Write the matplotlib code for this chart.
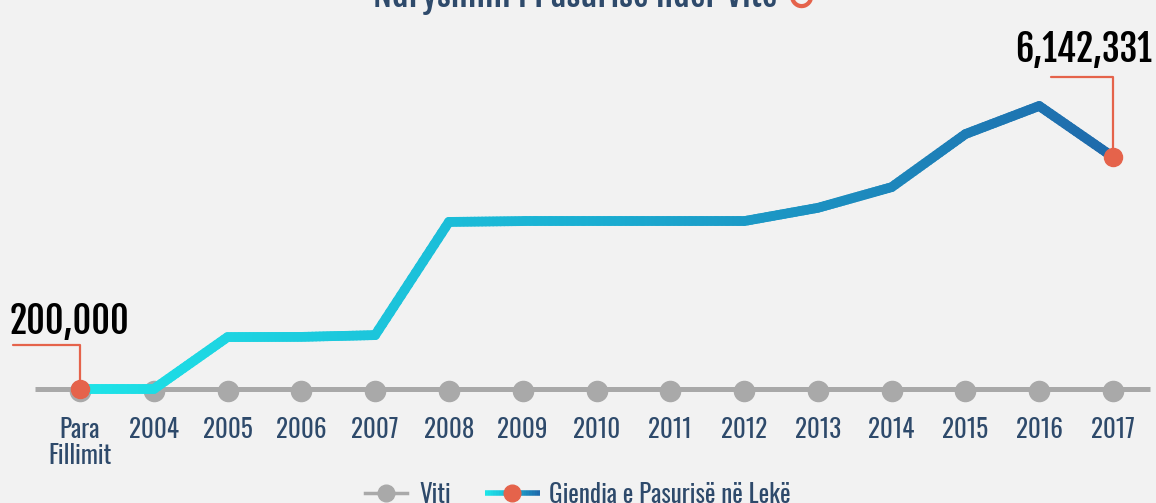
import numpy as np
import matplotlib.pyplot as plt
from matplotlib.collections import LineCollection
from matplotlib.colors import LinearSegmentedColormap
import matplotlib.transforms as mtransforms

# data
years = ['Para\nFillimit', '2004', '2005', '2006', '2007', '2008', '2009', '2010',
         '2011', '2012', '2013', '2014', '2015', '2016', '2017']
wealth = [200000, 200000, 1530000, 1535000, 1580000, 4480000, 4500000, 4500000,
          4500000, 4500000, 4840000, 5370000, 6730000, 7450000, 6142331]
viti_level = [200000] * len(years)
title = 'Ndryshimi i Pasurisë ndër Vite'
legend_labels = ['Viti', 'Gjendja e Pasurisë në Lekë']

BG = '#f2f2f2'
NAVY = '#2e4a6b'
RED = '#e5634b'
GRAY = '#a9a9a9'
FONT = ['Oswald', 'DejaVu Sans']
BOLD = ['Fjalla One', 'Oswald', 'DejaVu Sans']
grad = LinearSegmentedColormap.from_list('g', ['#1ee4e8', '#1aaed2', '#1f6aab'])

W, H = 1156, 503
fig = plt.figure(figsize=(W / 100, H / 100), dpi=100, facecolor=BG)
ax = fig.add_axes([0, 0, 1, 1])
ax.set_facecolor(BG)
ax.axis('off')

x = np.arange(len(years))
# pixel layout of the original: first category at 80px, last at 1113px
step = (1113 - 80) / (len(years) - 1)
ax.set_xlim(-80 / step, len(years) - 1 + (W - 1113) / step)
vscale = (wealth[-1] - wealth[0]) / (389 - 157)
ax.set_ylim(wealth[0] - (H - 389) * vscale, wealth[0] + 389 * vscale)

# grey "Viti" baseline
ax.axhline(viti_level[0], xmin=35 / W, xmax=1150 / W, color=GRAY, lw=3.6,
           solid_capstyle='butt', zorder=1)
ax.plot(x, np.array(viti_level) - 2 * vscale, 'o', color=GRAY, ms=14.5, zorder=2)

# gradient wealth line (each straight segment split for the colour ramp)
segs, cols = [], []
n_sub = 20
for i in range(len(x) - 1):
    t = np.linspace(0, 1, n_sub + 1)
    xs = x[i] + (x[i + 1] - x[i]) * t
    ys = wealth[i] + (wealth[i + 1] - wealth[i]) * t
    for j in range(n_sub):
        segs.append([(xs[j], ys[j]), (xs[j + 1], ys[j + 1])])
        cols.append(grad((xs[j] + xs[j + 1]) / 2 / x[-1]))
lc = LineCollection(segs, colors=cols, linewidths=7, capstyle='round',
                    joinstyle='round', zorder=3)
ax.add_collection(lc)

ax.plot([x[0], x[-1]], [wealth[0], wealth[-1]], 'o', color=RED, ms=13, zorder=5)

# leader lines and value labels
for xi, yi, dx, dy in [(x[0], wealth[0], -67, 44), (x[-1], wealth[-1], -62, 80)]:
    ax.annotate('', xy=(xi, yi), xytext=(dx, dy), textcoords='offset pixels',
                arrowprops=dict(arrowstyle='-', color=RED, lw=1.6, shrinkA=0, shrinkB=0,
                                connectionstyle='angle,angleA=0,angleB=90,rad=0'),
                zorder=4)
ax.text(10 / W, 1 - 334 / H, f'{wealth[0]:,}', transform=ax.transAxes, ha='left',
        va='baseline', fontsize=26, color='black', family=BOLD)
ax.text(1152 / W, 1 - 62 / H, f'{wealth[-1]:,}', transform=ax.transAxes, ha='right',
        va='baseline', fontsize=26, color='black', family=BOLD)

# category labels
trans = mtransforms.blended_transform_factory(ax.transData, ax.transAxes)
for xi, lab in zip(x, years):
    ax.text(xi, 1 - 417 / H, lab, transform=trans, ha='center', va='top',
            fontsize=18, color=NAVY, family=FONT, linespacing=1.0)

# title (cut at the top edge like the original)
ax.text(575 / W, 1 - 7 / H, title, transform=ax.transAxes, ha='center',
        va='baseline', fontsize=25, color=NAVY, family=BOLD)
ax.text(801 / W, 1 - 10 / H, '\u21bb', transform=ax.transAxes, ha='center',
        va='baseline', fontsize=26, fontweight='bold', color=RED, family=['DejaVu Sans'])

# legend
ly = 1 - 493 / H
ax.plot([365 / W, 407 / W], [ly, ly], color=GRAY, lw=2.5, transform=ax.transAxes,
        clip_on=False)
ax.plot([386 / W], [ly], 'o', color=GRAY, ms=12, transform=ax.transAxes, clip_on=False)
ax.text(419 / W, ly - 2 / H, legend_labels[0], transform=ax.transAxes, va='center',
        ha='left', fontsize=18, color=NAVY, family=FONT)
lx = np.linspace(485 / W, 540 / W, 21)
lsegs = [[(lx[k], ly), (lx[k + 1], ly)] for k in range(20)]
ax.add_collection(LineCollection(lsegs, colors=[grad(k / 19) for k in range(20)],
                                 linewidths=4, transform=ax.transAxes))
ax.plot([512 / W], [ly], 'o', color=RED, ms=12, transform=ax.transAxes, clip_on=False)
ax.text(549 / W, ly - 2 / H, legend_labels[1], transform=ax.transAxes, va='center',
        ha='left', fontsize=18, color=NAVY, family=FONT)

fig.savefig('out.png', dpi=100, facecolor=BG)
